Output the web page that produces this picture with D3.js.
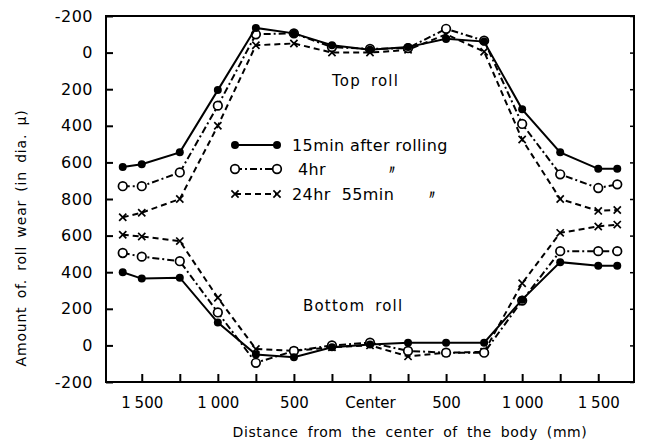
<!DOCTYPE html>
<html>
<head>
<meta charset="utf-8">
<script src="https://cdn.jsdelivr.net/npm/d3@7"></script>
<style>
  body { margin: 0; background: #fff; }
  svg { font-family: "DejaVu Sans", sans-serif; }
</style>
</head>
<body>
<div id="chart-area"></div>
<script>
// distance from body centre in mm (negative = left side)
var xPos = [-1625, -1500, -1250, -1000, -750, -500, -250, 0, 250, 500, 750, 1000, 1250, 1500, 1625];

// top roll wear (in dia., micron)
var topFilled = [625, 610, 545, 205, -135, -105, -40, -15, -30, -75, -60, 310, 545, 635, 635];
var topOpen   = [730, 730, 655, 290, -100, -105, -30, -20, -25, -130, -65, 390, 665, 740, 720];
var topCross  = [900, 875, 800, 400, -40, -50, 0, 0, -15, -100, -5, 475, 800, 865, 860];

// bottom roll wear
var botFilled = [400, 365, 370, 125, -50, -65, -10, 5, 15, 15, 15, 250, 455, 435, 435];
var botOpen   = [505, 485, 460, 180, -95, -30, 0, 15, -30, -40, -40, 245, 515, 515, 515];
var botCross  = [605, 595, 570, 260, -20, -30, -10, 0, -60, -40, -35, 340, 615, 650, 660];

var seriesNames = ["15min after rolling", "4hr", "24hr  55min"];
var xTicks = [-1500, -1250, -1000, -750, -500, -250, 0, 250, 500, 750, 1000, 1250, 1500];
var yTopTicks = [-200, 0, 200, 400, 600, 800];
var yBotTicks = [600, 400, 200, 0, -200];

var W = 646, H = 441;
var plot = { left: 106, right: 634, top: 16, bottom: 382 };

var svg = d3.select("#chart-area").append("svg")
    .attr("width", W)
    .attr("height", H);

// scales
var x = d3.scaleLinear().domain([-1735, 1735]).range([plot.left, plot.right]);
var step = (plot.bottom - plot.top) / 10;
var yTop = d3.scaleLinear().domain([-200, 800]).range([plot.top, plot.top + 5 * step]);
var yBot = d3.scaleLinear().domain([-200, 600]).range([plot.bottom, plot.bottom - 4 * step]);

function mmLabel(d) {
    if (d === 0) return "Center";
    var a = Math.abs(d);
    if (a % 500 !== 0) return "";
    return a >= 1000 ? Math.floor(a / 1000) + " " + d3.format("03d")(a % 1000) : String(a);
}

// frame
svg.append("rect")
    .attr("x", plot.left).attr("y", plot.top)
    .attr("width", plot.right - plot.left).attr("height", plot.bottom - plot.top)
    .attr("fill", "none").attr("stroke", "#000").attr("stroke-width", 2);

// x axis (ticks pointing inward)
var xAxis = svg.append("g")
    .attr("transform", "translate(0," + plot.bottom + ")")
    .call(d3.axisBottom(x).tickValues(xTicks).tickSizeInner(-8).tickSizeOuter(0)
        .tickPadding(15).tickFormat(mmLabel));
xAxis.select(".domain").remove();
xAxis.selectAll("line").attr("stroke-width", 2);
xAxis.selectAll("text").attr("font-size", "15px").attr("fill", "#000")
    .attr("font-family", "DejaVu Sans").attr("word-spacing", "-1px");

// y axes (top roll / bottom roll)
function yAxisFmt(d) { return String(d); }
[[yTop, yTopTicks], [yBot, yBotTicks]].forEach(function(a) {
    var g = svg.append("g")
        .attr("transform", "translate(" + plot.left + ",0)")
        .call(d3.axisLeft(a[0]).tickValues(a[1]).tickSizeInner(-7).tickSizeOuter(0)
            .tickPadding(13).tickFormat(yAxisFmt));
    g.select(".domain").remove();
    g.selectAll("line").attr("stroke-width", 2);
    g.selectAll("text").attr("font-size", "16px").attr("fill", "#000")
        .attr("font-family", "DejaVu Sans").attr("letter-spacing", "0.5px");

    var r = svg.append("g")
        .attr("transform", "translate(" + plot.right + ",0)")
        .call(d3.axisRight(a[0]).tickValues(a[1]).tickSizeInner(-4).tickSizeOuter(0).tickFormat(""));
    r.select(".domain").remove();
    r.selectAll("line").attr("stroke-width", 1.5);
});

// axis titles
svg.append("text")
    .attr("x", 410).attr("y", 437)
    .attr("text-anchor", "middle")
    .attr("font-size", "14px")
    .attr("letter-spacing", "0.6px")
    .attr("word-spacing", "4px")
    .text("Distance from the center of the body (mm)");

svg.append("text")
    .attr("transform", "translate(26,238) rotate(-90)")
    .attr("text-anchor", "middle")
    .attr("font-size", "14px")
    .attr("letter-spacing", "0.8px")
    .attr("word-spacing", "3px")
    .text("Amount of. roll wear  (in dia. \u03bc)");

// region labels
svg.append("text").attr("x", 332).attr("y", 86)
    .attr("font-size", "15px").attr("letter-spacing", "1.2px").attr("word-spacing", "4px")
    .text("Top roll");
svg.append("text").attr("x", 303).attr("y", 311)
    .attr("font-size", "15px").attr("letter-spacing", "1.2px").attr("word-spacing", "4px")
    .text("Bottom roll");

// series
var styles = [
    { dash: null, marker: "filled" },
    { dash: "7,3,2,3", marker: "open" },
    { dash: "6,4", marker: "cross" }
];
var topSeries = [topFilled, topOpen, topCross];
var botSeries = [botFilled, botOpen, botCross];

function drawMarker(g, type, cx, cy) {
    if (type === "filled") {
        g.append("circle").attr("cx", cx).attr("cy", cy).attr("r", 4).attr("fill", "#000");
    } else if (type === "open") {
        g.append("circle").attr("cx", cx).attr("cy", cy).attr("r", 4.3)
            .attr("fill", "#fff").attr("stroke", "#000").attr("stroke-width", 1.7);
    } else {
        var s = 3.6;
        g.append("path")
            .attr("d", "M" + (cx - s) + "," + (cy - s) + "L" + (cx + s) + "," + (cy + s) +
                       "M" + (cx - s) + "," + (cy + s) + "L" + (cx + s) + "," + (cy - s))
            .attr("stroke", "#000").attr("stroke-width", 1.7);
    }
}

function drawSeries(values, yScale, st) {
    var pts = xPos.map(function(d, i) { return [x(d), yScale(values[i])]; });
    svg.append("path")
        .attr("d", d3.line()(pts))
        .attr("fill", "none").attr("stroke", "#000").attr("stroke-width", 2)
        .attr("stroke-dasharray", st.dash);
    var g = svg.append("g");
    pts.forEach(function(p) { drawMarker(g, st.marker, p[0], p[1]); });
}

[2, 1, 0].forEach(function(i) {
    drawSeries(topSeries[i], yTop, styles[i]);
    drawSeries(botSeries[i], yBot, styles[i]);
});

// legend
var legY = [145, 169, 194];
var legTextX = [292, 298, 292];
var dittoX = [null, 386, 426];
seriesNames.forEach(function(name, i) {
    var g = svg.append("g");
    g.append("line").attr("x1", 235).attr("x2", 277).attr("y1", legY[i]).attr("y2", legY[i])
        .attr("stroke", "#000").attr("stroke-width", 2).attr("stroke-dasharray", styles[i].dash);
    drawMarker(g, styles[i].marker, 235, legY[i]);
    drawMarker(g, styles[i].marker, 277, legY[i]);
    g.append("text").attr("x", legTextX[i]).attr("y", legY[i] + 6)
        .attr("font-size", "16px").attr("letter-spacing", "0.4px")
        .style("white-space", "pre")
        .text(name);
    if (dittoX[i] !== null) {
        g.append("text").attr("x", dittoX[i]).attr("y", legY[i] + 5)
            .attr("font-size", "12px").attr("font-weight", "bold").text("\u3003");
    }
});
</script>
</body>
</html>
